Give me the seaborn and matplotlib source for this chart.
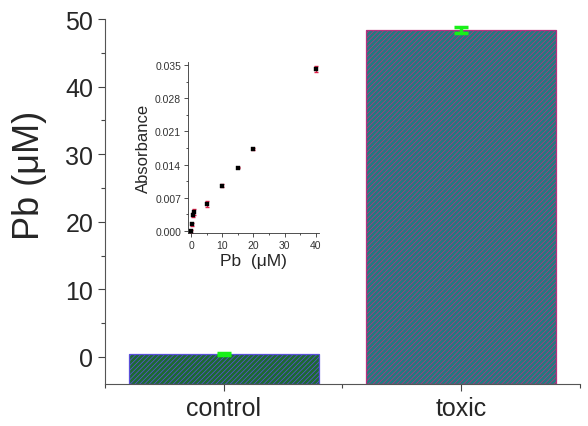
import matplotlib
matplotlib.use("Agg")
import matplotlib.pyplot as plt
import seaborn as sns
import pandas as pd
from matplotlib.ticker import MultipleLocator, FormatStrFormatter

categories = ["control", "toxic"]
pb_values = [0.4, 48.4]
pb_errors = [0.15, 0.5]

inset_pb = [0, 0.2, 0.5, 1, 5, 10, 15, 20, 40]
inset_abs = [0.0000, 0.0014, 0.0034, 0.0040, 0.0057, 0.0096, 0.0134, 0.0173, 0.0342]
inset_err = [0.0003, 0.0003, 0.0004, 0.0006, 0.0006, 0.0004, 0.0002, 0.0002, 0.0006]

sns.set_style("ticks")
plt.rcParams["font.family"] = ["Liberation Sans", "DejaVu Sans"]
plt.rcParams["hatch.linewidth"] = 0.55

fig = plt.figure(figsize=(5.88, 4.27), dpi=100)
ax = fig.add_axes([0.1786, 0.0984, 0.8074, 0.8546])

YMIN, YMAX = -4, 50
df = pd.DataFrame({"cat": categories, "val": pb_values})
sns.barplot(data=df, x="cat", y="val", ax=ax, width=0.8, errorbar=None)
faces = ["#1c6a30", "#1f7c80"]
edges = ["#5a4fd8", "#b8307f"]
for p, fc, ec, v in zip(ax.patches, faces, edges, pb_values):
    p.set_facecolor(fc)
    p.set_edgecolor(ec)
    p.set_hatch("///////")
    p.set_linewidth(0.9)
    # Origin-style: bars start from the bottom of the axis
    p.set_y(YMIN)
    p.set_height(v - YMIN)

ax.errorbar(range(len(categories)), pb_values, yerr=pb_errors, fmt="none",
            ecolor="#18f018", elinewidth=2.5, capsize=5, capthick=2.5, zorder=5)

ax.set_xlim(-0.5, 1.5)
ax.set_ylim(YMIN, YMAX)
ax.yaxis.set_major_locator(MultipleLocator(10))
ax.yaxis.set_minor_locator(MultipleLocator(5))
ax.xaxis.set_minor_locator(MultipleLocator(0.5))
ax.tick_params(axis="both", which="major", labelsize=18, length=5, width=0.8, color="#444444")
ax.tick_params(axis="both", which="minor", length=3, width=0.8, color="#444444")
ax.set_xlabel("")
ax.set_ylabel("Pb (μM)", fontsize=26)
ax.yaxis.set_label_coords(-0.122, 0.575)
for s in ["top", "right"]:
    ax.spines[s].set_visible(False)
for s in ["left", "bottom"]:
    ax.spines[s].set_color("#555555")
    ax.spines[s].set_linewidth(0.8)

# inset
axi = fig.add_axes([0.3197, 0.452, 0.2228, 0.400])
idf = pd.DataFrame({"pb": inset_pb, "abs": inset_abs})
axi.errorbar(inset_pb, inset_abs, yerr=inset_err, fmt="none", ecolor="#e0204a",
             elinewidth=0.9, capsize=1.5, zorder=2)
sns.scatterplot(data=idf, x="pb", y="abs", ax=axi, marker="s", s=12,
                color="black", edgecolor="black", zorder=3)
axi.set_xlim(-1, 41)
axi.set_ylim(-0.0004, 0.0356)
axi.xaxis.set_major_locator(MultipleLocator(10))
axi.xaxis.set_minor_locator(MultipleLocator(5))
axi.yaxis.set_major_locator(MultipleLocator(0.007))
axi.yaxis.set_minor_locator(MultipleLocator(0.0035))
axi.yaxis.set_major_formatter(FormatStrFormatter("%.3f"))
axi.tick_params(axis="both", which="major", labelsize=7.5, length=3, width=0.6,
                color="#333333", labelcolor="#333333", pad=2)
axi.tick_params(axis="both", which="minor", length=1.5, width=0.6, color="#333333")
axi.set_xlabel("Pb  (μM)", fontsize=12.5, labelpad=2)
axi.set_ylabel("Absorbance", fontsize=12, labelpad=3)
for s in ["top", "right"]:
    axi.spines[s].set_visible(False)
for s in ["left", "bottom"]:
    axi.spines[s].set_linewidth(0.6)
    axi.spines[s].set_color("#333333")
axi.patch.set_alpha(0)

fig.savefig("out.png", dpi=100)
